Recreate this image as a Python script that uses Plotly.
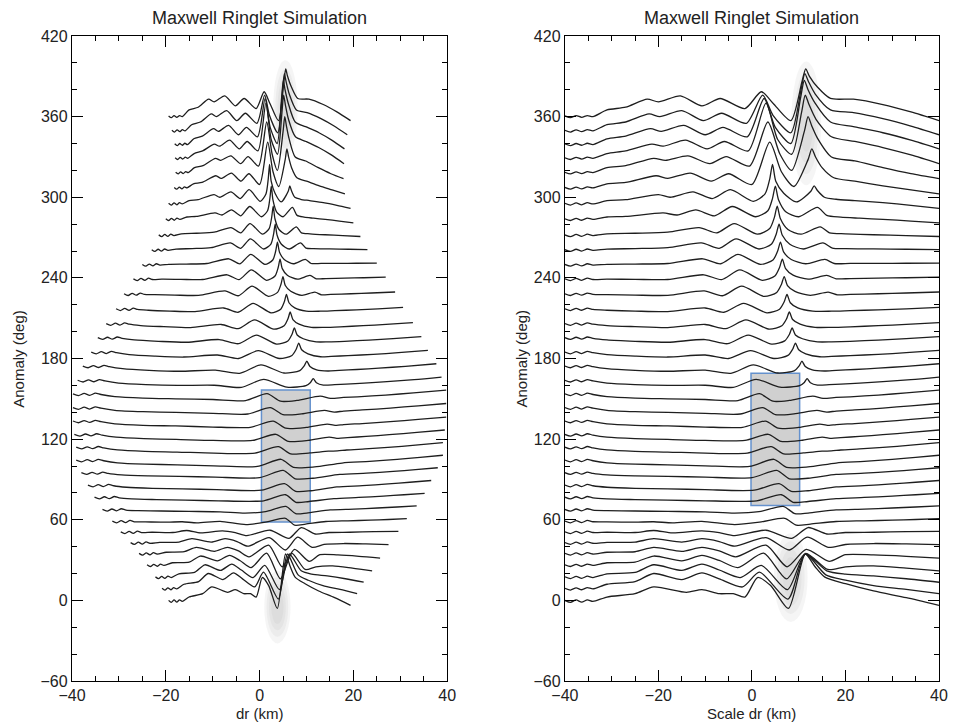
import plotly.graph_objects as go

# ---------------- data ----------------
anomaly = list(range(0, 361, 10))

# half width of each profile in km (left panel extent)
halfwidth_km = [19.4, 20.8, 22.2, 24.0, 25.7, 27.5, 29.6, 31.4, 33.5, 35.2, 36.6, 38.0, 39.1,
                39.1, 39.5, 39.8, 39.8, 39.8, 38.8, 37.7, 35.9, 34.5, 32.7, 30.6, 28.9, 26.9,
                25.0, 23.0, 21.5, 20.0, 19.4, 18.2, 17.9, 18.0, 18.1, 18.7, 19.4]

W = [-40, -38.8, -37.6, -36.4, -35.2, -34, -31]   # left-edge sample positions shared by all profiles

# profile sample positions in scaled dr (km, -40..40), after the shared left-edge samples
profile_x = [
    W + [-25,-21,-14,-10.7,-7,-4,-1.5,1.2,4,7.8,11.4,13.5,15.6,20,26,33,40],
    W + [-25,-21,-15,-10.7,-7,-2,1.6,7.7,11.4,15.8,20,26,33,40],
    W + [-25,-21,-15,-10.7,-7,-2.5,2,7.6,11.4,16,20,26,33,40],
    W + [-25,-21,-15,-10.7,-7,-3,2.5,7.4,11.5,16.2,20,26,33,40],
    W + [-25,-21,-15,-10.7,-7,-3.5,3,7.5,11.6,16.5,20,26,33,40],
    W + [-25,-21,-15,-10.7,-7,-3.7,3,8,11.8,16.3,20,26,33,40],
    W + [-25,-21,-17,-10.7,-7,-3.7,3,8.5,12,16,20,26,33,40],
    W + [-25,-21,-17,-10.7,-3.7,2,7,9.5,12.5,18,24,30,35,40],
    W + [-25,-18,-10,-3.7,1.5,6.7,9.2,12,18,24,30,35,40],
    W + [-25,-18,-10,1,6.3,8.8,12,18,24,30,35,40],
    W + [-25,-18,-10,0.5,5.8,8.4,12,18,24,30,35,40],
    W + [-25,-18,-10,0,5.3,8,12,18,24,30,35,40],
    W + [-25,-18,-10,-0.5,4.7,7.4,12,18,24,30,35,40],
    W + [-25,-18,-10,-1,4.1,6.8,11,15,17,19,23,28,34,40],
    W + [-25,-18,-10,-1.5,3.5,6.2,10.5,15,17,19,23,28,34,40],
    W + [-25,-18,-10,-2,2.9,5.6,10,14.5,16.5,18,22,28,34,40],
    W + [-25,-18,-10,-2.5,2.3,5,9,13.9,16,18,22,28,34,40],
    W + [-25,-18,-10,-3,1.6,4.5,8,13,15.2,18,21,27,33,40],
    W + [-25,-18,-10,-4,0.9,6,10.2,11.2,11.8,12.5,14,16.5,19,23,28,34,40],
    W + [-25,-18,-10,-4.5,0.3,5.5,9.1,10.1,10.7,11.4,12.9,15.5,18,22,27,33,40],
    W + [-25,-18,-10,-5,-0.3,4.7,7.7,8.7,9.3,10.0,11.5,14.5,17,21,27,33,40],
    W + [-25,-18,-10,-5.2,-0.8,4.2,7.0,8.0,8.6,9.3,10.8,14,17,21,27,33,40],
    W + [-25,-18,-10,-5.6,-1.3,3.7,6.4,7.4,8.0,8.7,10.3,13.5,17,21,27,33,40],
    W + [-25,-18,-10,-6,-1.8,3.2,5.9,6.9,7.5,8.2,9.8,13,17,21,27,33,40],
    W + [-25,-18,-10.2,-6.3,-2.2,2.6,5.3,6.3,6.9,7.6,9.2,12.5,16.3,18.3,21,27,33,40],
    W + [-25,-18,-10.3,-6.5,-2.6,2.2,4.9,5.9,6.5,7.2,8.8,12,16,18,21,27,33,40],
    W + [-25,-18,-10.5,-6.7,-3,1.8,4.5,5.5,6.1,6.8,8.4,11.5,15.6,17.6,21,27,33,40],
    W + [-25,-18,-10.8,-7,-3.4,1.5,4.2,5.2,5.8,6.5,8.1,11,15.2,17.2,20,26,33,40],
    W + [-25,-18,-11.3,-7.5,-3.8,1.2,3.8,4.8,5.4,6.1,7.7,10.5,14.6,16.6,20,26,33,40],
    W + [-27,-19,-16,-12,-8,-4.2,0.8,3.4,4.4,5.0,5.7,7.3,10,14,16,19,23,28,34,40],
    W + [-27,-20,-17.5,-12.6,-8.5,-4.6,0.3,2.8,3.8,4.4,5.1,6.8,9.5,12.6,13.3,14,15.5,18,22,28,34,40],
    W + [-27,-20.5,-18,-13.2,-8.7,-5,0,3.8,6.3,9,12,12.8,13.6,15,17.5,22,28,34,40],
    W + [-27,-21,-18.5,-13.7,-9,-5.5,-0.5,3.4,6,8.5,11.2,12,12.8,14,17,22,28,34,40],
    W + [-27,-21.4,-19,-14.2,-9.6,-5.9,-0.8,3,5.5,8.5,10.6,11.4,12.2,13.7,17,22,28,34,40],
    W + [-27,-21.7,-19.4,-14.6,-10,-6.2,-1,2.6,5,8.3,10.4,11.2,12,13.5,16.8,21.7,28,34,40],
    W + [-27,-22,-19.7,-15,-10.4,-6.5,-1.2,2.3,4.5,8.3,10.5,11.3,12.1,13.5,16.8,21.7,28,34,40],
    W + [-27,-22.4,-20,-15.3,-10.7,-6.8,-1.5,2,4.5,8.3,10.7,11.5,12.3,14,16.8,21.7,28,34,40],
]

# offsets (deg) from each profile's anomaly, matching profile_x
profile_dy = [
    [0,-1.5,0.3,-1.3,0.4,-0.8,2.5,5,10,6,8,5,5,2.5,17,11,-6,34.5,25,17.3,12.4,7,2,-3.7],
    [-1,-2.3,-0.7,-2.1,-0.5,-1.5,2,4,10,5.5,10.5,6,0,11,-9,24.5,9,5,1,-1.8,-5],
    [-2.5,-3.8,-2.2,-3.6,-2,-3,-0.2,0.8,6.5,2.3,7,2.6,-3,6,-12,14.5,2,-0.5,-1.8,-3.9,-6.5],
    [-3.5,-4.8,-3.2,-4.6,-3,-4,-2,-1.5,3,-0.6,3.5,-0.3,-5.6,5.1,-14,5,-7,-5,-4.3,-6,-8],
    [-5,-6.3,-4.7,-6.1,-4.5,-5.5,-4.2,-3.8,-0.6,-3.5,-0.5,-3.2,-7.6,1.1,-15,-2,-11,-6,-6.2,-7.2,-8.5],
    [-7,-8.3,-6.7,-8.1,-6.5,-7.5,-6.8,-6.6,-4.1,-6.6,-4.1,-6.2,-9.7,-3.3,-12.5,-3,-10.5,-8.4,-7.7,-8,-8.5],
    [-9,-10.3,-8.7,-10.1,-8.5,-9.5,-9.3,-9.5,-8,-9.8,-8.3,-9.6,-11.8,-7.8,-13.8,-5.8,-10.6,-9.5,-9.3,-8.9,-8.7],
    [-11,-12.3,-10.7,-12.1,-10.5,-11.5,-11.6,-11.8,-11.5,-12.3,-11.2,-13.6,-11.6,-8.9,-14,-13.2,-11.3,-10.8,-10.3,-9.8,-9.2],
    [-12.3,-13.6,-12,-13.4,-11.8,-12.8,-13.2,-13.5,-13.8,-14.1,-15,-14,-10.1,-15.5,-15,-12.7,-12.1,-11.25,-10.5,-9.6],
    [-13.2,-14.5,-12.9,-14.3,-12.7,-13.7,-14.5,-15,-15.4,-15.9,-15.9,-11.4,-17,-16.4,-14.3,-13.4,-12.4,-11.4,-10.3],
    [-14.2,-15.5,-13.9,-15.3,-13.7,-14.7,-15.8,-16.6,-17,-17.6,-18,-13.1,-18.8,-18.4,-15.6,-14.6,-13.3,-12.1,-10.8],
    [-15,-16.3,-14.7,-16.1,-14.5,-15.5,-16.6,-17.3,-17.7,-18.3,-18.7,-13.3,-19.5,-19.1,-16.3,-15.3,-14,-12.7,-11.3],
    [-15.6,-16.9,-15.3,-16.7,-15.1,-16.1,-17.6,-18.6,-19.1,-19.9,-20.3,-15,-21,-20.7,-17.8,-16.6,-15,-13.6,-12],
    [-16,-17.3,-15.7,-17.1,-15.5,-16.5,-18,-19.1,-19.6,-20.4,-20.4,-15.6,-21,-20.3,-19,-18.8,-18.1,-17.3,-16.2,-14.5,-12.6],
    [-16.5,-17.8,-16.2,-17.6,-16,-17,-18.5,-19.6,-20.2,-21,-21,-16.4,-21.7,-21,-18.5,-19.4,-18.9,-18,-16.7,-15,-13.2],
    [-16.5,-17.8,-16.2,-17.6,-16,-17,-18.6,-19.7,-20.2,-21,-21.2,-16.6,-21.9,-21.3,-18.8,-19.8,-19.2,-18.4,-17,-15.3,-13.6],
    [-16.5,-17.8,-16.2,-17.6,-16,-17,-18.6,-19.6,-20.1,-20.8,-21.3,-16.5,-21.8,-21.2,-18.6,-19.9,-19.1,-18.3,-16.9,-15.2,-13.5],
    [-16.3,-17.6,-16,-17.4,-15.8,-16.8,-18.4,-19.5,-20,-20.5,-21.3,-16.2,-21.8,-21.2,-18,-19.7,-19,-18.5,-17.2,-15.6,-13.5],
    [-16.2,-17.5,-15.9,-17.3,-15.7,-16.7,-18.3,-19.4,-20,-19.9,-21.5,-15.5,-21.3,-20.2,-17.8,-15,-18,-19.8,-19.5,-19,-18.3,-17.2,-15.7,-13.8],
    [-15.6,-16.9,-15.3,-16.7,-15.1,-16.1,-17.6,-18.8,-19.5,-18.7,-21,-14.8,-20.8,-19,-15.5,-12,-16,-18.5,-19.3,-18.8,-18.2,-17.2,-15.8,-13.9],
    [-15.2,-16.5,-14.9,-16.3,-14.7,-15.7,-17.1,-18.2,-18.9,-17.4,-20,-14.1,-20,-17.7,-13.1,-8.5,-13.5,-16.5,-18.7,-18.4,-17.9,-16.9,-15.7,-14],
    [-14.5,-15.8,-14.2,-15.6,-14,-15,-16.2,-17.2,-17.9,-15.9,-19,-12.6,-19.3,-16.9,-12.1,-7.3,-12.5,-15.3,-17.6,-17.6,-17.2,-16.3,-15.2,-13.7],
    [-14,-15.3,-13.7,-15.1,-13.5,-14.5,-15.5,-16.3,-17,-14.7,-17.8,-11.3,-18.2,-15.6,-10.5,-5.4,-11,-14.4,-16.8,-16.8,-16.4,-15.6,-14.6,-13.3],
    [-13,-14.3,-12.7,-14.1,-12.5,-13.5,-14.1,-14.7,-15.1,-12.4,-15.6,-9,-16,-13.3,-7.8,-2.3,-8.5,-12.3,-14.7,-14.8,-14.4,-13.8,-13,-12],
    [-11.8,-13.1,-11.5,-12.9,-11.3,-12.3,-12.45,-12.8,-13,-9.7,-13.3,-6.2,-13.8,-10.8,-4.9,1,-5.7,-10,-13,-10.6,-12.6,-12.3,-11.8,-11.25,-10.5],
    [-10.7,-12,-10.4,-11.8,-10.2,-11.2,-11,-11.1,-11.2,-7.7,-11.3,-4.1,-11.8,-8.6,-2.3,4,-3.1,-8,-11,-8.2,-10.7,-10.5,-10.2,-9.9,-9.5],
    [-10,-11.3,-9.7,-11.1,-9.5,-10.5,-9.9,-9.7,-9.3,-5.8,-9.5,-2.5,-10,-6.7,0,6.6,-0.9,-6.3,-9.5,-6.3,-9.3,-9.2,-9.2,-9.1,-9],
    [-9,-10.3,-8.7,-10.1,-8.5,-9.5,-8.6,-8.2,-7.5,-4,-8,-1,-8.5,-4.8,2.6,10,1.7,-5,-8.5,-4,-7.8,-8.2,-8.4,-8.7,-9],
    [-8,-9.3,-7.7,-9.1,-7.5,-8.5,-7.3,-6.8,-6,-2.6,-6.5,0.4,-7.5,-3.3,5,13.4,4,-4,-7.5,-2,-6.5,-7.2,-7.9,-8.5,-9.2],
    [-6,-7.3,-5.7,-7.1,-5.5,-6.5,-4.7,-4.3,-1.7,-3.2,0.6,-3.8,3.1,-4.5,0,9.2,18.3,8,-1,-4.5,2.5,-3.5,-4.8,-5.6,-6.5,-7.7,-9],
    [-4.5,-5.8,-4.2,-5.6,-4,-5,-2.5,-1.8,2,0,4,-1,5.6,-3,2.5,13.5,24.5,12,3,-3.5,4.5,8.5,5,0,-1.5,-2.5,-4,-6,-8.3],
    [-2.7,-4,-2.4,-3.8,-2.3,-3,0,1,6,4,8,2,7.5,-0.5,31,9,-2,18,26,20,12,4.5,2,-1.5,-4.5,-7.5],
    [-1.4,-2.6,-1.1,-2.4,-1,-1.6,2,3.5,9,7.5,10.8,5,10.3,3.2,36,12,0,29,40,33,24,10,7,2,-2.5,-6.2],
    [-0.6,-1.9,-0.3,-1.6,-0.2,-1,2.5,4.5,9.5,8,12.5,6,11.5,4.5,40,13,2,33,46,39,28,15,11.5,7,1.5,-5],
    [-0.2,-1.6,0,-1.3,0.2,-0.8,3.5,5.5,11,9,13.5,6.5,12,5,33.5,12,0,34,47,40,30,16,12.5,8,2.5,-4],
    [-0.2,-1.5,0.2,-1.2,0.3,-0.6,4,6,12,10,14.5,7,12.5,5,26,11,-2,30,42,36,27,15,13,8.5,3,-3.5],
    [0.5,-0.8,0.8,-0.5,0.8,0,5,7,13,11,15.5,8,13.5,6,18.5,10,-3,26,35.5,30,22,13.5,13,9,3.5,-3],
]

# highlighted boxes (x0, x1, y0, y1) and glow ellipses (cx, cy, rx, ry)
box_left = [0.4, 10.8, 58.4, 156.5]
box_right = [-0.2, 10.2, 70.6, 169.0]
glow_left = [[5.5, 366, 2.6, 36], [3.8, -5, 2.8, 27]]
glow_right = [[11.6, 355, 3.2, 46], [8.3, 17, 3.6, 33]]

title_text = "Maxwell Ringlet Simulation"
xlabel_left = "dr (km)"
xlabel_right = "Scale dr (km)"
ylabel = "Anomaly (deg)"

# ---------------- figure ----------------
FONT = "Liberation Sans, Arial, Helvetica, sans-serif"
LINE = "#1e1e1e"

for px, pdy in zip(profile_x, profile_dy):
    assert len(px) == len(pdy), (len(px), len(pdy))


def panel_lines(scaled):
    xs_all, ys_all = [], []
    for a, hw, px, pdy in zip(anomaly, halfwidth_km, profile_x, profile_dy):
        s = 1.0 if scaled else hw / 40.0
        xs_all.append([x * s for x in px])
        ys_all.append([a + d for d in pdy])
    return xs_all, ys_all


fig = go.Figure()
for scaled, xr, yr in [(False, "x", "y"), (True, "x2", "y2")]:
    cx_list, cy_list = panel_lines(scaled)
    for cx, cy in zip(cx_list, cy_list):
        fig.add_trace(go.Scatter(x=cx, y=cy, mode="lines",
                                 line=dict(color=LINE, width=1.3, shape="spline", smoothing=0.7),
                                 xaxis=xr, yaxis=yr, hoverinfo="skip", showlegend=False))

shapes = []
for (xr, yr, glows, box) in [("x", "y", glow_left, box_left), ("x2", "y2", glow_right, box_right)]:
    for cx, cy, gx, gy in glows:
        for f, op in [(1.0, 0.18), (0.82, 0.2), (0.64, 0.22), (0.46, 0.25)]:
            shapes.append(dict(type="circle", xref=xr, yref=yr, layer="below",
                               x0=cx - gx * f, x1=cx + gx * f, y0=cy - gy * f, y1=cy + gy * f,
                               fillcolor=f"rgba(200,200,200,{op})", line=dict(width=0)))
    shapes.append(dict(type="rect", xref=xr, yref=yr, layer="below",
                       x0=box[0], x1=box[1], y0=box[2], y1=box[3],
                       fillcolor="rgb(208,208,208)", line=dict(color="rgb(100,145,205)", width=1.5)))

axis_common = dict(showline=True, linecolor="black", linewidth=1.3, mirror="ticks",
                   ticks="inside", tickcolor="black", tickwidth=1.2, showgrid=False,
                   zeroline=False, tickfont=dict(family=FONT, size=16, color="#222"))
xa = dict(axis_common, range=[-40, 40], dtick=20, tick0=-40, ticklen=11,
          minor=dict(dtick=5, ticklen=5, ticks="inside", tickcolor="black", tickwidth=1.2))
ya = dict(axis_common, range=[-60, 420], dtick=60, tick0=0, ticklen=11,
          minor=dict(dtick=20, ticklen=5, ticks="inside", tickcolor="black", tickwidth=1.2))

fig.update_layout(
    width=958, height=727, margin=dict(l=72, r=10, t=36, b=46),
    paper_bgcolor="white", plot_bgcolor="white",
    xaxis=dict(xa, domain=[0, 0.4327], anchor="y"),
    yaxis=dict(ya, domain=[0, 1], anchor="x"),
    xaxis2=dict(xa, domain=[0.5685, 1], anchor="y2"),
    yaxis2=dict(ya, domain=[0, 1], anchor="x2"),
    shapes=shapes,
    font=dict(family=FONT, color="#222"),
)

ann = []
for cx, xl in [(0.2164, xlabel_left), (0.7842, xlabel_right)]:
    ann.append(dict(text=title_text, x=cx, y=1.028, xref="paper", yref="paper",
                    showarrow=False, font=dict(size=18), xanchor="center", yanchor="middle"))
    ann.append(dict(text=xl, x=cx, y=-0.05, xref="paper", yref="paper",
                    showarrow=False, font=dict(size=15), xanchor="center", yanchor="middle"))
for yx in [-0.062, 0.519]:
    ann.append(dict(text=ylabel, x=yx, y=0.5, xref="paper", yref="paper", textangle=-90,
                    showarrow=False, font=dict(size=15), xanchor="center", yanchor="middle"))
fig.update_layout(annotations=ann)

fig.write_html("out.html")
